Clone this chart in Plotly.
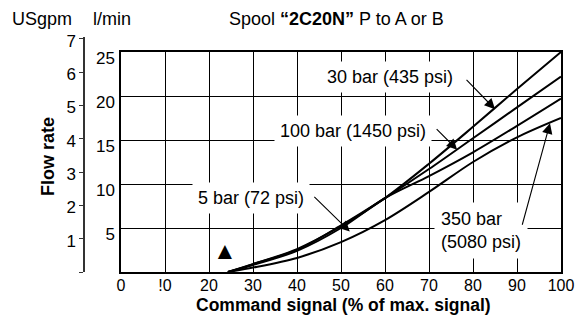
import plotly.graph_objects as go

# Command signal (% of max. signal) sample points
signal = [24.3, 30, 40, 50, 60, 70, 80, 90, 100]

# Flow rate (l/min) per pressure drop
flow_30bar = [0, 0.9, 2.6, 5.2, 8.4, 12.3, 16.5, 20.8, 25.0]
flow_100bar = [0, 0.9, 2.5, 5.3, 8.4, 11.7, 15.2, 18.7, 22.2]
flow_5bar = [0, 0.8, 2.4, 5.0, 8.4, 10.9, 13.6, 16.6, 19.7]
flow_350bar = [0, 0.5, 1.6, 3.4, 5.9, 9.1, 12.5, 15.3, 17.5]

x_ticks = [0, 10, 20, 30, 40, 50, 60, 70, 80, 90, 100]
x_ticktext = ["0", "!0", "20", "30", "40", "50", "60", "70", "80", "90", "100"]
lmin_ticks = [5, 10, 15, 20, 25]
gpm_ticks = [0, 1, 2, 3, 4, 5, 6, 7]
gpm_ticktext = ["", "1", "2", "3", "4", "5", "6", "7"]

LMIN_PER_GPM = 3.785

W, H = 580, 328
ML, MR, MT, MB = 85, 19, 37, 56
PW, PH = W - ML - MR, H - MT - MB
BOX_LEFT = 121     # pixel where the grid box starts
BOX_TOP = 52       # pixel of the 25 l/min line

FONT = "Liberation Sans, Arial, sans-serif"


def paper(px, py):
    """Convert a page pixel position into paper coordinates."""
    return (px - ML) / PW, (H - MB - py) / PH


fig = go.Figure()

series = [
    ("30 bar", flow_30bar),
    ("100 bar", flow_100bar),
    ("5 bar", flow_5bar),
    ("350 bar", flow_350bar),
]
for name, vals in series:
    fig.add_trace(go.Scatter(
        x=signal, y=vals, name=name, mode="lines",
        line=dict(color="black", width=2, shape="spline", smoothing=0.9),
        xaxis="x", yaxis="y", showlegend=False, hoverinfo="x+y+name",
    ))

# empty trace so the free-standing USgpm axis gets its own subplot
fig.add_trace(go.Scatter(x=[], y=[], xaxis="x2", yaxis="y2",
                         showlegend=False, hoverinfo="skip"))

lmin_top = 25
gpm_top = (H - MB - MT) / ((H - MB - BOX_TOP) / lmin_top) / LMIN_PER_GPM
box_frac = (H - MB - BOX_TOP) / PH

fig.update_layout(
    width=W, height=H,
    margin=dict(l=ML, r=MR, t=MT, b=MB, pad=0, autoexpand=False),
    paper_bgcolor="white", plot_bgcolor="rgba(0,0,0,0)",
    font=dict(family=FONT, size=17, color="black"),
    xaxis=dict(
        domain=[(BOX_LEFT - ML) / PW, 1], range=[0, 100], anchor="y",
        tickvals=x_ticks, ticktext=x_ticktext, ticks="",
        tickfont=dict(size=16), ticklabelstandoff=-2,
        showgrid=True, gridcolor="black", gridwidth=1.3,
        showline=True, linecolor="black", linewidth=1.5, mirror=True,
        zeroline=False, fixedrange=True, automargin=False,
    ),
    yaxis=dict(
        domain=[0, box_frac], range=[0, lmin_top], anchor="x",
        tickvals=lmin_ticks, ticks="", tickfont=dict(size=17),
        ticklabelshift=6, ticklabelstandoff=1,
        showgrid=True, gridcolor="black", gridwidth=1.3,
        showline=True, linecolor="black", linewidth=1.5, mirror=True,
        zeroline=False, fixedrange=True, automargin=False,
    ),
    xaxis2=dict(domain=[0, 1], range=[0, 1], anchor="y2", visible=False,
                fixedrange=True, automargin=False),
    yaxis2=dict(
        domain=[0, 1], range=[0, gpm_top], anchor="x2", side="left",
        tickvals=gpm_ticks, ticktext=gpm_ticktext,
        ticks="outside", ticklen=4, tickwidth=1.3, tickcolor="#333",
        tickfont=dict(size=17), ticklabelstandoff=0, ticklabelshift=2,
        showline=True, linecolor="#333", linewidth=1.5,
        showgrid=False, zeroline=False, fixedrange=True, automargin=False,
    ),
    yaxis3=dict(
        range=[0, gpm_top], overlaying="y2", anchor="x2", side="left",
        tickvals=gpm_ticks, showticklabels=False,
        ticks="inside", ticklen=2, tickwidth=1.3, tickcolor="#333",
        showline=False, showgrid=False, zeroline=False, fixedrange=True,
        automargin=False,
    ),
)

annotations = []


def label(text, px, py, size=18, bold=False, bg=None, align="center",
          angle=0, pad=0):
    x, y = paper(px, py)
    if bold:
        text = "<b>" + text + "</b>"
    annotations.append(dict(
        text=text, x=x, y=y, xref="paper", yref="paper",
        xanchor="center", yanchor="middle", showarrow=False,
        font=dict(family=FONT, size=size, color="black"),
        bgcolor=bg, borderpad=pad, align=align, textangle=angle,
    ))


def arrow(tip_s, tip_f, tail_s, tail_f):
    annotations.append(dict(
        text="", x=tip_s, y=tip_f, xref="x", yref="y",
        ax=tail_s, ay=tail_f, axref="x", ayref="y",
        showarrow=True, arrowhead=2, arrowsize=1.9, arrowwidth=1.1,
        arrowcolor="black", standoff=0, startstandoff=0,
    ))


# headings
label("USgpm", 42, 19)
label("l/min", 112, 19)
label("Spool <b>\u201c2C20N\u201d</b> P to A or B", 336, 19)
label("Flow rate", 48, 157, bold=True, angle=-90)
label("Command signal (% of max. signal)", 343, 305, size=17.5, bold=True)

# curve labels on white boxes
label("30 bar (435 psi)", 390, 77, bg="white", pad=5)
label("100 bar (1450 psi)", 353, 131, bg="white", pad=5)
label("5 bar (72 psi)", 251, 198, bg="white", pad=5)
label("350 bar<br>(5080 psi)", 481, 230, bg="white", pad=6, align="left")
label("\u25b2", 225, 250, size=24)

arrow(85.0, 18.5, 78.2, 22.0)
arrow(76.4, 13.9, 71.4, 16.4)
arrow(52.0, 4.6, 43.6, 8.7)
arrow(97.5, 16.9, 91.1, 5.2)

fig.update_layout(annotations=annotations)

fig.write_html("out.html")
